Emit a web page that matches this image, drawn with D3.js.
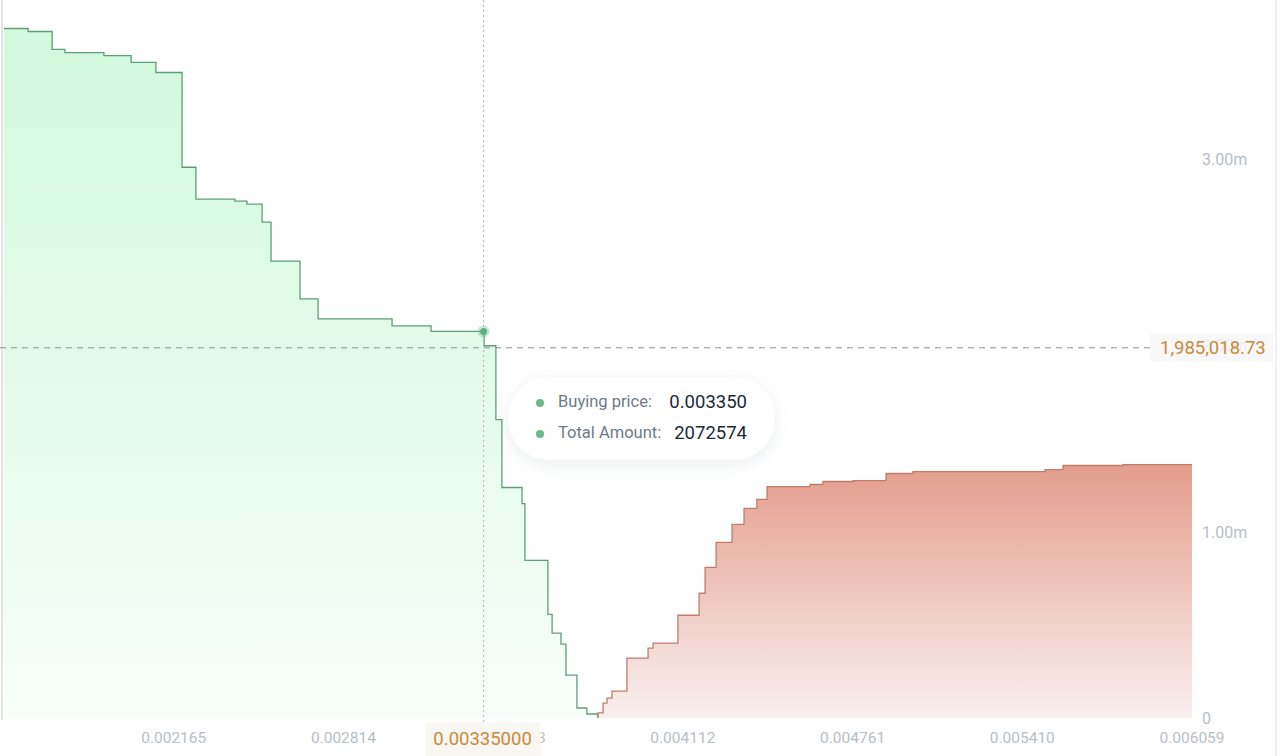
<!DOCTYPE html>
<html><head><meta charset="utf-8">
<script src="https://cdn.jsdelivr.net/npm/d3@7"></script>
<style>
html,body{margin:0;padding:0;background:#fff;}
svg{display:block;font-family:Roboto,"Noto Sans",sans-serif;}
</style></head>
<body><svg id="c" width="1280" height="756"></svg>
<script>
// ---- data ----
const bidPrices = [0.001516,0.001608,0.001700,0.001749,0.001898,0.002002,0.002097,0.002197,0.002250,0.002399,0.002445,0.002503,0.002537,0.002648,0.002717,0.003000,0.003149,0.003352,0.003397,0.003420,0.003497,0.003508,0.003596,0.003612,0.003646,0.003665,0.003707,0.003745,0.003787];
const bidAmounts = [3697000,3681000,3585000,3568000,3552000,3515000,3461000,2953000,2782000,2771000,2755000,2659000,2450000,2247000,2140000,2103000,2072574,1996000,1600000,1236000,1150000,845000,556000,455000,396000,230000,53500,21400,0];
const askPrices = [0.003787,0.003787,0.003807,0.003822,0.003841,0.003898,0.003979,0.003998,0.004093,0.004174,0.004197,0.004239,0.004300,0.004346,0.004395,0.004434,0.004598,0.004648,0.004763,0.004889,0.004992,0.005497,0.005566,0.005795,0.006059];
const askAmounts = [0,27000,80000,107000,144000,321000,374500,401000,551000,669000,808000,942000,1038000,1123500,1172000,1241000,1252000,1268000,1273000,1311000,1321000,1332000,1354000,1359000,1359000];
const xTickValues = [0.002165,0.002814,0.003463,0.004112,0.004761,0.005410,0.006059];
const xTickLabels = ["0.002165","0.002814","0.003463","0.004112","0.004761","0.005410","0.006059"];
const yTickValues = [0,1000000,2000000,3000000];
const yTickLabels = ["0","1.00m","2.00m","3.00m"];
const hoverPrice = 0.003350, hoverAmount = 2072574;
const hoverPriceLabel = "0.00335000", hoverYLabel = "1,985,018.73", hoverYValue = 1985018.73;
const tooltipRows = [["Buying price:","0.003350"],["Total Amount:","2072574"]];

// ---- chart ----
const svg = d3.select("#c");
const x = d3.scaleLinear().domain([0.001516,0.006059]).range([4,1192]);
const y = d3.scaleLinear().domain([0,3849866]).range([718,0]);
const defs = svg.append("defs");
const gG = defs.append("linearGradient").attr("id","gG").attr("gradientUnits","userSpaceOnUse")
  .attr("x1",0).attr("x2",0).attr("y1",y(3700000)).attr("y2",y(0));
gG.append("stop").attr("offset",0).attr("stop-color","#d1f9dc");
gG.append("stop").attr("offset",1).attr("stop-color","#f7fef9");
const gR = defs.append("linearGradient").attr("id","gR").attr("gradientUnits","userSpaceOnUse")
  .attr("x1",0).attr("x2",0).attr("y1",y(1360000)).attr("y2",y(0));
gR.append("stop").attr("offset",0).attr("stop-color","#e49d8c");
gR.append("stop").attr("offset",1).attr("stop-color","#f9f0f0");
const f = defs.append("filter").attr("id","sh").attr("x","-20%").attr("y","-40%").attr("width","140%").attr("height","180%");
f.append("feDropShadow").attr("dx",0).attr("dy",4).attr("stdDeviation",9).attr("flood-color","#8a94a6").attr("flood-opacity",0.18);

// frame lines
svg.append("line").attr("x1",2).attr("x2",2).attr("y1",0).attr("y2",720).attr("stroke","#e4e4e4").attr("stroke-width",2);
svg.append("line").attr("x1",1276).attr("x2",1276).attr("y1",0).attr("y2",756).attr("stroke","#ececec").attr("stroke-width",1.5);

const bids = bidPrices.map((p,i)=>[p,bidAmounts[i]]);
const asks = askPrices.map((p,i)=>[p,askAmounts[i]]);
const area = d3.area().curve(d3.curveStepAfter).x(d=>x(d[0])).y0(y(0)).y1(d=>y(d[1]));
const line = d3.line().curve(d3.curveStepAfter).x(d=>x(d[0])).y(d=>y(d[1]));
svg.append("path").datum(bids).attr("d",area).attr("fill","url(#gG)");
svg.append("path").datum(asks).attr("d",area).attr("fill","url(#gR)");
svg.append("path").datum(bids).attr("d",line).attr("fill","none").attr("stroke","#5f9e7a").attr("stroke-width",1.3);
svg.append("path").datum(asks).attr("d",line).attr("fill","none").attr("stroke","#c47c6a").attr("stroke-width",1.3);

// y ticks
svg.append("g").selectAll("text").data(yTickValues).join("text")
  .attr("x",1202).attr("y",d=>y(d)+2).attr("dominant-baseline","middle")
  .attr("font-size",16).attr("fill","#b7bec6").text((d,i)=>yTickLabels[i]);
// x ticks
svg.append("g").selectAll("text").data(xTickValues).join("text")
  .attr("x",d=>x(d)).attr("y",739).attr("dominant-baseline","middle").attr("text-anchor","middle")
  .attr("font-size",15.5).attr("fill","#b7bec6").text((d,i)=>xTickLabels[i]);

// crosshair
const hx = x(hoverPrice), hy = y(hoverYValue);
svg.append("line").attr("x1",hx).attr("x2",hx).attr("y1",0).attr("y2",722)
  .attr("stroke","#b5b5b5").attr("stroke-dasharray","2,3").attr("stroke-width",1);
svg.append("line").attr("x1",0).attr("x2",1150).attr("y1",hy).attr("y2",hy)
  .attr("stroke","#8e8e8e").attr("stroke-dasharray","6,5").attr("stroke-width",1);
svg.append("circle").attr("cx",hx).attr("cy",y(hoverAmount)).attr("r",6).attr("fill","#6cb98c").attr("opacity",0.35);
svg.append("circle").attr("cx",hx).attr("cy",y(hoverAmount)).attr("r",3.5).attr("fill","#5fae80");

// axis pointer labels
svg.append("rect").attr("x",1150).attr("y",hy-14).attr("width",124).attr("height",28).attr("fill","#f6f6f6").attr("opacity",0.82);
svg.append("text").attr("x",1160).attr("y",hy+1).attr("dominant-baseline","middle").attr("font-size",18.5).attr("fill","#c98a3c").text(hoverYLabel);
svg.append("rect").attr("x",hx-58).attr("y",722).attr("width",115).attr("height",34).attr("fill","#f8f6f1").attr("opacity",0.9);
svg.append("text").attr("x",hx-1).attr("y",740).attr("dominant-baseline","middle").attr("text-anchor","middle").attr("font-size",18.5).attr("fill","#c98a3c").text(hoverPriceLabel);

// tooltip
const tt = svg.append("g").attr("transform","translate(508,377)");
tt.append("rect").attr("width",267).attr("height",83).attr("rx",41).attr("fill","#fff").attr("filter","url(#sh)");
tooltipRows.forEach((r,i)=>{
  const cy = 26 + i*31;
  tt.append("circle").attr("cx",32).attr("cy",cy).attr("r",4).attr("fill","#6cb98c");
  tt.append("text").attr("x",50).attr("y",cy).attr("dominant-baseline","middle").attr("font-size",16.5).attr("fill","#6e7a88").text(r[0]);
  tt.append("text").attr("x",239).attr("y",cy).attr("dominant-baseline","middle").attr("text-anchor","end").attr("font-size",18.5).attr("fill","#1c2838").text(r[1]);
});
</script></body></html>
